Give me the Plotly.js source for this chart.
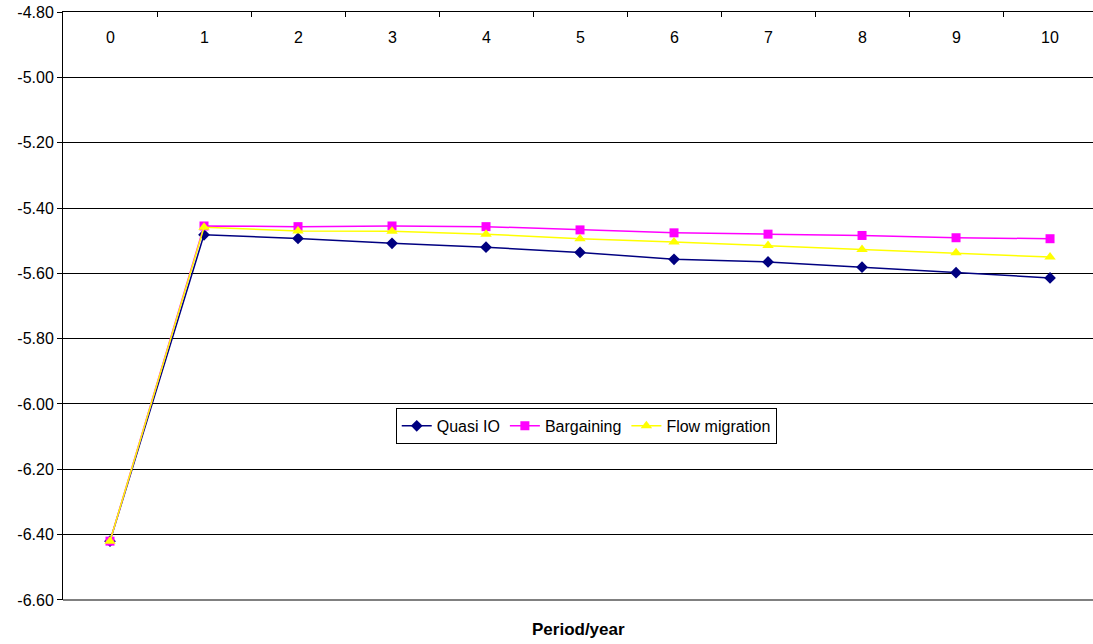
<!DOCTYPE html>
<html>
<head>
<meta charset="utf-8">
<script src="https://cdn.plot.ly/plotly-3.0.1.min.js"></script>
<style>html,body{margin:0;padding:0;background:#fff;}#chart{width:1093px;height:644px;}</style>
</head>
<body>
<div id="chart"></div>
<script>
const periods = ['0','1','2','3','4','5','6','7','8','9','10'];
const quasiIO = [-6.42,-5.482,-5.493,-5.508,-5.520,-5.536,-5.557,-5.565,-5.581,-5.598,-5.614];
const bargaining = [-6.42,-5.455,-5.457,-5.455,-5.457,-5.467,-5.476,-5.480,-5.484,-5.491,-5.494];
const flowMigration = [-6.42,-5.459,-5.470,-5.471,-5.480,-5.494,-5.504,-5.515,-5.527,-5.537,-5.550];
const yTickVals = [-6.6,-6.4,-6.2,-6.0,-5.8,-5.6,-5.4,-5.2,-5.0,-4.8];
const yTickText = ['-6.60','-6.40','-6.20','-6.00','-5.80','-5.60','-5.40','-5.20','-5.00','-4.80'];
const xTitle = 'Period/year';

const font = {family:'Liberation Sans, Arial, sans-serif', size:16, color:'#000'};

const traces = [
  {x: periods, y: quasiIO, name:'Quasi IO', type:'scatter', mode:'lines+markers',
   line:{color:'#000080', width:1.5}, marker:{symbol:'diamond', size:9, color:'#000080'}},
  {x: periods, y: bargaining, name:'Bargaining', type:'scatter', mode:'lines+markers',
   line:{color:'#FF00FF', width:1.5}, marker:{symbol:'square', size:9, color:'#FF00FF'}},
  {x: periods, y: flowMigration, name:'Flow migration', type:'scatter', mode:'lines+markers',
   line:{color:'#FFFF00', width:1.5}, marker:{symbol:'triangle-up', size:10, color:'#FFFF00'}}
];

// category labels drawn just under the top axis line
const labelAnnotations = periods.map(p => ({
  text: p, xref:'x', yref:'paper', x: p, y: 0.9558,
  xanchor:'center', yanchor:'middle', showarrow:false, font: font
}));

const layout = {
  width:1093, height:644,
  margin:{l:63, r:0, t:12, b:44},
  paper_bgcolor:'#fff', plot_bgcolor:'#fff',
  font: font,
  showlegend:true,
  legend:{orientation:'h', x:0.508, xanchor:'center', y:0.296, yanchor:'middle',
          bordercolor:'#000', borderwidth:1, bgcolor:'#fff', font:font},
  xaxis:{type:'category', side:'top', range:[-0.5,10.457], tickson:'boundaries',
         ticks:'inside', ticklen:5, tickcolor:'#000', showticklabels:false,
         showline:true, linecolor:'#000', linewidth:1, showgrid:false, zeroline:false},
  yaxis:{range:[-6.6002,-4.7998], tickvals:yTickVals, ticktext:yTickText,
         ticks:'outside', ticklen:5, tickcolor:'#000',
         showline:true, linecolor:'#000', linewidth:1,
         showgrid:true, gridcolor:'#000', gridwidth:1, zeroline:false, tickfont:font},
  shapes:[{type:'line', xref:'paper', yref:'paper', x0:0, x1:1, y0:0, y1:0,
           line:{color:'#808080', width:2}}],
  annotations:[{text:'<b>'+xTitle+'</b>', xref:'paper', yref:'paper', x:0.5, y:-0.051,
                xanchor:'center', yanchor:'middle', showarrow:false,
                font:{family:'Liberation Sans, Arial, sans-serif', size:17, color:'#000'}}]
                .concat(labelAnnotations)
};

Plotly.newPlot('chart', traces, layout, {displayModeBar:false, staticPlot:true});
</script>
</body>
</html>
